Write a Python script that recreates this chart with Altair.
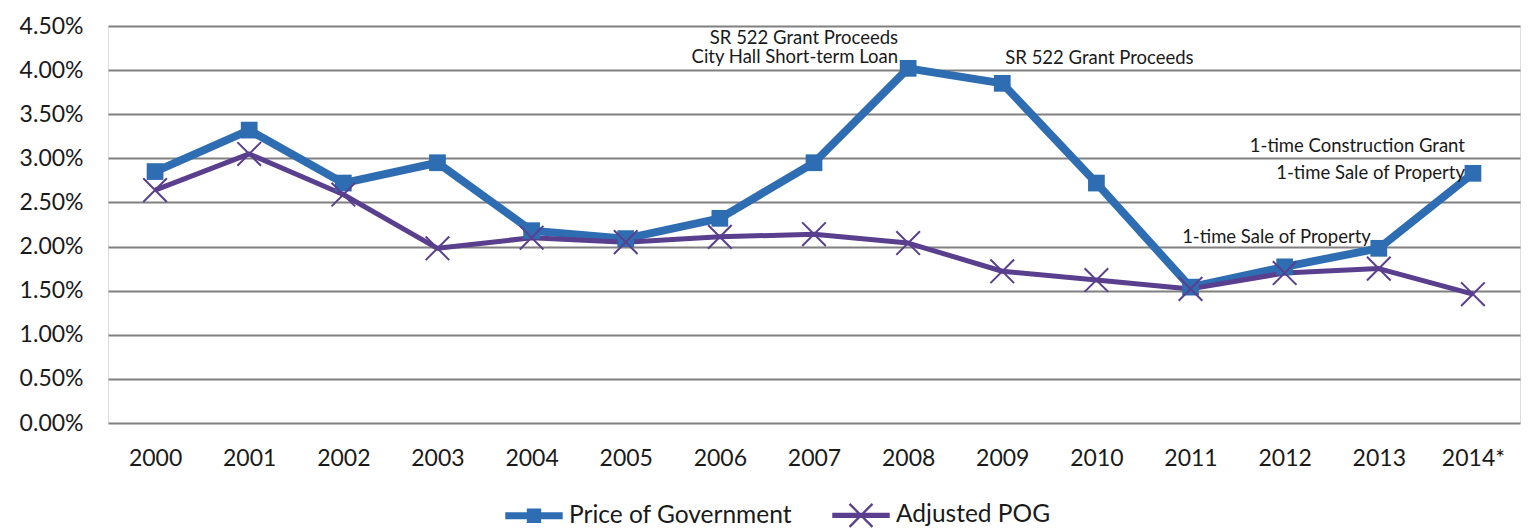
import altair as alt
import pandas as pd

years = ["2000", "2001", "2002", "2003", "2004", "2005", "2006", "2007",
         "2008", "2009", "2010", "2011", "2012", "2013", "2014*"]
pog = [2.85, 3.32, 2.72, 2.95, 2.18, 2.09, 2.32, 2.95, 4.02, 3.85, 2.72, 1.54, 1.77, 1.98, 2.83]
adjusted = [2.64, 3.05, 2.59, 1.98, 2.10, 2.05, 2.11, 2.14, 2.04, 1.72, 1.62, 1.52, 1.70, 1.75, 1.46]
series_names = ["Price of Government", "Adjusted POG"]
colors = ["#2F6DB3", "#5A3F8E"]

rows = []
for y, a, b in zip(years, pog, adjusted):
    rows.append({"year": y, "value": a / 100, "series": series_names[0]})
    rows.append({"year": y, "value": b / 100, "series": series_names[1]})
df = pd.DataFrame(rows)

FONT = "Lato"

x_enc = alt.X("year:N", sort=years, title=None,
              scale=alt.Scale(paddingInner=0, paddingOuter=0),
              axis=alt.Axis(labelAngle=0, ticks=False, domain=False, grid=False,
                            labelFontSize=23, labelFont=FONT, labelColor="#1a1a1a",
                            labelPadding=24))
y_enc = alt.Y("value:Q", title=None,
              scale=alt.Scale(domain=[0, 0.045], nice=False, zero=True),
              axis=alt.Axis(format=".2%", values=[i * 0.005 for i in range(10)],
                            ticks=False, domain=False, grid=True, gridColor="#808080",
                            gridWidth=2, labelFontSize=23, labelFont=FONT,
                            labelColor="#1a1a1a", labelPadding=25))
color_enc = alt.Color("series:N", scale=alt.Scale(domain=series_names, range=colors))

base = alt.Chart(df)

line_pog = base.transform_filter(alt.datum.series == series_names[0]).mark_line(
    strokeWidth=8, strokeJoin="round").encode(x=x_enc, y=y_enc, color=color_enc)
line_adj = base.transform_filter(alt.datum.series == series_names[1]).mark_line(
    strokeWidth=5, strokeJoin="round").encode(x=x_enc, y=y_enc, color=color_enc)

pts_pog = base.transform_filter(alt.datum.series == series_names[0]).mark_point(
    shape="square", size=280, filled=True, opacity=1).encode(x=x_enc, y=y_enc, color=color_enc)
xpath = "M-1,-1L1,1M-1,1L1,-1"
pts_adj = base.transform_filter(alt.datum.series == series_names[1]).mark_point(
    shape=xpath, size=560, filled=False, strokeWidth=2, opacity=1).encode(
    x=x_enc, y=y_enc, color=color_enc)

leg_pog = "M-1,-0.12H1V0.12H-1Z M-0.25,-0.25H0.25V0.25H-0.25Z"
leg_adj = ("M-1,-0.09H1V0.09H-1Z "
           "M-0.372,-0.428L0.428,0.372L0.372,0.428L-0.428,-0.372Z "
           "M-0.428,0.372L0.372,-0.428L0.428,-0.372L-0.372,0.428Z")
legend = alt.Legend(title=None, orient="none", direction="horizontal",
                    legendX=397, legendY=460, symbolSize=3300, symbolStrokeWidth=0,
                    labelFontSize=24.5, labelFont=FONT, labelColor="#1a1a1a",
                    labelOffset=6, columnPadding=40, symbolOpacity=1, labelLimit=0)
legend_layer = base.transform_filter(alt.datum.value < -1).mark_point(
    filled=True, opacity=1).encode(
    x=x_enc, y=y_enc,
    color=alt.Color("series:N", scale=alt.Scale(domain=series_names, range=colors),
                    legend=legend),
    shape=alt.Shape("series:N", scale=alt.Scale(domain=series_names, range=[leg_pog, leg_adj]),
                    legend=legend))

# annotations
ann_2008 = pd.DataFrame({"year": ["2008"], "value": [pog[8] / 100]})
ann_2009 = pd.DataFrame({"year": ["2009"], "value": [pog[9] / 100]})
ann_2013 = pd.DataFrame({"year": ["2013"], "value": [pog[13] / 100]})
ann_2014 = pd.DataFrame({"year": ["2014*"], "value": [pog[14] / 100]})

def note(data, label, align, dx, dy):
    return alt.Chart(data).mark_text(
        text=label, align=align, baseline="middle", dx=dx, dy=dy,
        fontSize=18.5, font=FONT, color="#1a1a1a").encode(
        x=alt.X("year:N", sort=years), y=alt.Y("value:Q"))

notes = [
    note(ann_2008, "SR 522 Grant Proceeds", "right", -10, -30),
    note(ann_2008, "City Hall Short-term Loan", "right", -10, -11),
    note(ann_2009, "SR 522 Grant Proceeds", "left", 3, -25),
    note(ann_2013, "1-time Sale of Property", "right", -8, -11),
    note(ann_2014, "1-time Construction Grant", "right", -8, -27),
    note(ann_2014, "1-time Sale of Property", "right", -8, 0),
]

chart = alt.layer(line_pog, line_adj, pts_pog, pts_adj, legend_layer, *notes).properties(
    width=1412, height=397,
    autosize=alt.AutoSizeParams(type="none"),
    padding={"left": 100, "top": 18, "right": 5, "bottom": 106},
).configure_view(stroke=None).configure(background="white")

chart.save("out.html", embed_options={"renderer": "svg", "actions": False})
